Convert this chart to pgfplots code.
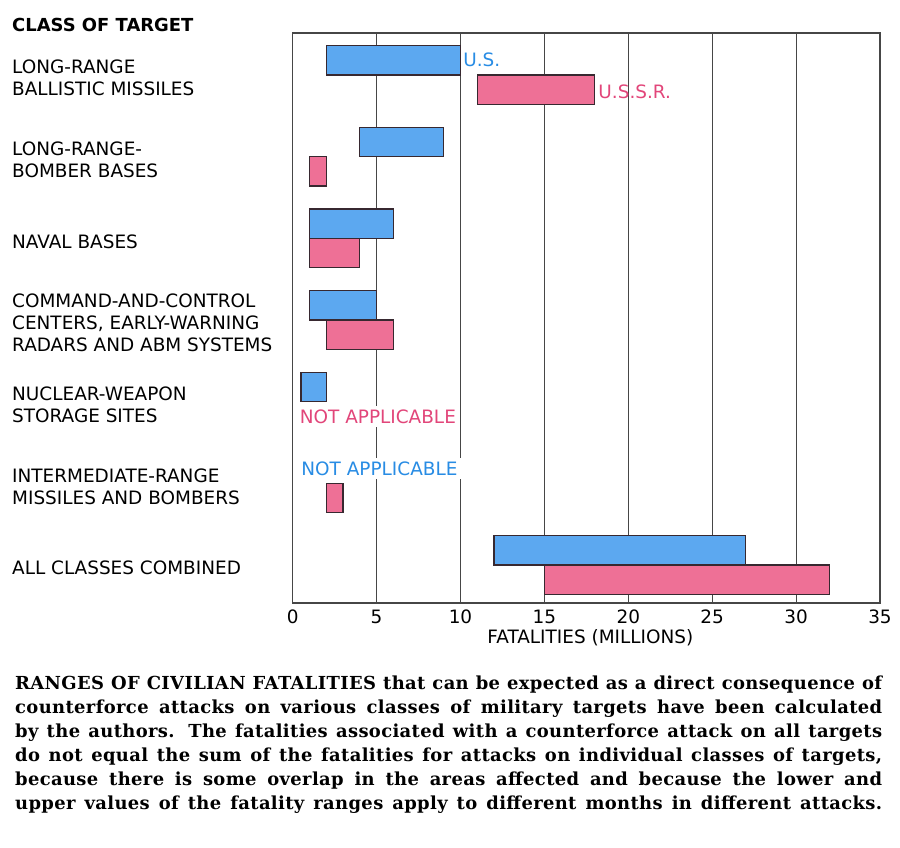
\documentclass[border=0pt]{standalone}
\usepackage{pgfplots}
\pgfplotsset{compat=1.18}
\usepackage{pgfplotstable}
\usepackage{fontspec}
\setmainfont{DejaVu Sans}
\newfontfamily\capfont[LetterSpace=2]{DejaVu Serif}
\definecolor{usfill}{RGB}{92,168,240}
\definecolor{ussrfill}{RGB}{238,112,150}
\definecolor{ustext}{RGB}{40,140,228}
\definecolor{ussrtext}{RGB}{226,70,122}
\definecolor{edge}{RGB}{55,40,48}
\definecolor{gridc}{RGB}{70,70,70}
\newcommand\lab{\fontsize{18.5}{22}\selectfont}

% category index, low and high fatalities (millions)
\pgfplotstableread{
idx lo hi
0 2 10
1 4 9
2 1 6
3 1 5
4 0.5 2
6 12 27
}\usdata
\pgfplotstableread{
idx lo hi
0 11 18
1 1 2
2 1 4
3 2 6
5 2 3
6 15 32
}\ussrdata

\pgfplotsset{
  base/.style={
    at={(292.7bp,245bp)}, anchor=south west, scale only axis,
    width=587.3bp, height=570bp,
    xmin=0, xmax=35, ymin=-0.514, ymax=6.465, y dir=reverse,
    xbar stacked, bar width=0.36,
  },
}

\begin{document}
\begin{tikzpicture}
\path[use as bounding box] (0,0) rectangle (900bp,848bp);
\begin{axis}[base,
  xtick={0,5,...,35}, xmajorgrids,
  major grid style={draw=gridc, line width=1bp},
  major tick length=0pt,
  axis line style={draw=gridc, line width=1.3bp},
  ytick={0,...,6},
  yticklabels={{LONG-RANGE\\BALLISTIC MISSILES},{LONG-RANGE-\\BOMBER BASES},{NAVAL BASES},{COMMAND-AND-CONTROL\\CENTERS, EARLY-WARNING\\RADARS AND ABM SYSTEMS},{NUCLEAR-WEAPON\\STORAGE SITES},{INTERMEDIATE-RANGE\\MISSILES AND BOMBERS},{ALL CLASSES COMBINED}},
  yticklabel style={anchor=west, align=left, inner sep=0pt, xshift=-280.7bp, yshift=-3bp, font=\lab},
  xticklabel style={anchor=base, inner sep=0pt, yshift=-20.5bp, font=\lab},
  /pgf/number format/assume math mode=true,
  xlabel={FATALITIES (MILLIONS)},
  xlabel style={at={(axis description cs:0.5,0)}, anchor=base, inner sep=0pt, yshift=-40.5bp, xshift=4bp, font=\lab},
]
\addplot[draw=none, fill=none] table[x=lo, y expr=\thisrow{idx}-0.18]{\usdata};
\addplot[fill=usfill, draw=edge, line width=1.2bp] table[x expr=\thisrow{hi}-\thisrow{lo}, y expr=\thisrow{idx}-0.18]{\usdata};
\node[anchor=west, text=ustext, inner sep=1bp, font=\lab] at (axis cs:10.1,-0.18) {U.S.};
\node[anchor=west, text=ussrtext, inner sep=1bp, font=\lab] at (axis cs:18.15,0.2) {U.S.S.R.};
\node[fill=white, text=ussrtext, inner sep=3.5bp, font=\lab] at (axis cs:5.08,4.18) {NOT APPLICABLE};
\node[fill=white, text=ustext, inner sep=3.5bp, font=\lab] at (axis cs:5.17,4.82) {NOT APPLICABLE};
\end{axis}
\begin{axis}[base, hide axis]
\addplot[draw=none, fill=none] table[x=lo, y expr=\thisrow{idx}+0.18]{\ussrdata};
\addplot[fill=ussrfill, draw=edge, line width=1.2bp] table[x expr=\thisrow{hi}-\thisrow{lo}, y expr=\thisrow{idx}+0.18]{\ussrdata};
\end{axis}
\node[anchor=base west, inner sep=0pt, font=\fontsize{18}{22}\selectfont\bfseries] at (12bp,816.5bp) {CLASS OF TARGET};
\node[anchor=base west, inner sep=0pt] at (15bp,158.5bp) {\parbox[t]{867bp}{\capfont\bfseries\fontsize{18}{24}\selectfont\parfillskip=0pt RANGES OF CIVILIAN FATALITIES that can be expected as a direct consequence of\linebreak counterforce attacks on various classes of military targets have been calculated\linebreak by the authors. The fatalities associated with a counterforce attack on all targets\linebreak do not equal the sum of the fatalities for attacks on individual classes of targets,\linebreak because there is some overlap in the areas affected and because the lower and\linebreak upper values of the fatality ranges apply to different months in different attacks.\par}};
\end{tikzpicture}
\end{document}
